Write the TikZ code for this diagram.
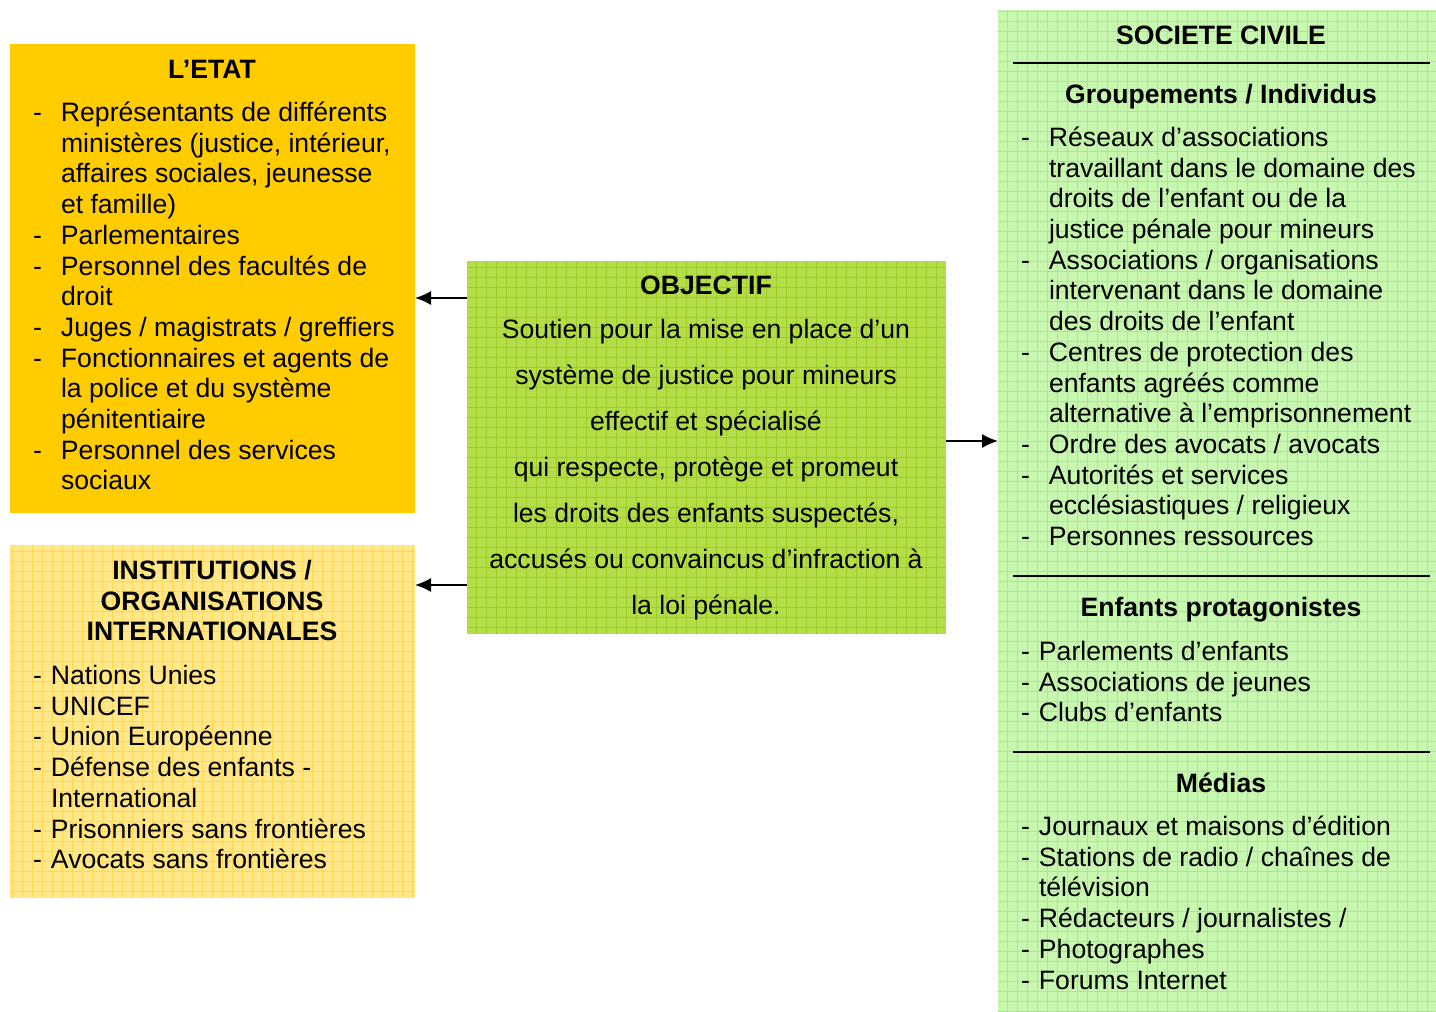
\documentclass[tikz,border=0pt]{standalone}
\usepackage{fontspec}
\setmainfont{Liberation Sans}
\usetikzlibrary{arrows.meta, positioning}
\definecolor{etatyellow}{HTML}{FFCC00}
\definecolor{instyellow}{HTML}{FFE88C}
\definecolor{instgrid}{HTML}{FFD850}
\definecolor{objgreen}{HTML}{B4DD4A}
\definecolor{objgrid}{HTML}{9ECC22}
\definecolor{civilgreen}{HTML}{C8F8B0}
\definecolor{civilgrid}{HTML}{A6EC86}

% dash list: width of the dash column, then the rows
\newcommand{\dashlist}[2]{\begin{tabular}[t]{@{}p{#1}@{}l@{}}#2\end{tabular}}

\begin{document}
\begin{tikzpicture}[x=0.5pt, y=-0.5pt,
  font=\fontsize{13.3}{15.35}\selectfont,
  every node/.style={inner sep=0pt, outer sep=0pt},
  panel/.style={anchor=north west},
  gridpanel/.style 2 args={panel, fill=#1,
    path picture={\draw[#2, line width=0.5pt, step=5pt]
      (path picture bounding box.south west) grid (path picture bounding box.north east);}},
  boxtitle/.style={anchor=base, font=\fontsize{13.3}{15.35}\selectfont\bfseries},
  listtext/.style={anchor=base west},
  sepline/.style={black, line width=1pt},
  arr/.style={-{Latex[length=8pt, width=7pt]}, line width=0.75pt}]
  \useasboundingbox (0,0) rectangle (1436,1012);

  % Boxes
  \node (etat) [panel, fill=etatyellow, minimum width=202.5pt, minimum height=234.5pt] at (10,44) {};
  \node (inst) [gridpanel={instyellow}{instgrid}, minimum width=202.5pt, minimum height=176.5pt] at (10,545) {};
  \node (objectif) [gridpanel={objgreen}{objgrid}, minimum width=239.5pt, minimum height=186.5pt] at (467,261) {};
  \node (civil) [gridpanel={civilgreen}{civilgrid}, minimum width=219pt, minimum height=501pt] at (998,10) {};

  % Left top - the state
  \node (etattitle) [boxtitle] at (212,78.5) {L’ETAT};
  \node (etatlist) [listtext] at (33,121.5) {\dashlist{14pt}{%
    -&Représentants de différents\\
     &ministères (justice, intérieur,\\
     &affaires sociales, jeunesse\\
     &et famille)\\
    -&Parlementaires\\
    -&Personnel des facultés de\\
     &droit\\
    -&Juges / magistrats / greffiers\\
    -&Fonctionnaires et agents de\\
     &la police et du système\\
     &pénitentiaire\\
    -&Personnel des services\\
     &sociaux}};

  % Left bottom - international bodies
  \node (insttitle) [boxtitle] at (212,579.5) {\begin{tabular}[t]{@{}c@{}}INSTITUTIONS /\\ORGANISATIONS\\INTERNATIONALES\end{tabular}};
  \node (instlist) [listtext] at (33,684.5) {\dashlist{9pt}{%
    -&Nations Unies\\
    -&UNICEF\\
    -&Union Européenne\\
    -&Défense des enfants -\\
     &International\\
    -&Prisonniers sans frontières\\
    -&Avocats sans frontières}};

  % Center - the objective
  \node (objtitle) [boxtitle] at (706,294.5) {OBJECTIF};
  \node (objtext) [anchor=base, font=\fontsize{13.3}{23}\selectfont] at (706,338.5) {\begin{tabular}[t]{@{}c@{}}
    Soutien pour la mise en place d’un\\
    système de justice pour mineurs\\
    effectif et spécialisé\\
    qui respecte, protège et promeut\\
    les droits des enfants suspectés,\\
    accusés ou convaincus d’infraction à\\
    la loi pénale.\end{tabular}};

  % Right side - civil society
  \node (civiltitle) [boxtitle] at (1221,44.5) {SOCIETE CIVILE};
  \draw[sepline] (1013,63) -- (1430,63);
  \node (grptitle) [boxtitle] at (1221,103.5) {Groupements / Individus};
  \node (grplist) [listtext] at (1021,146.5) {\dashlist{14pt}{%
    -&Réseaux d’associations\\
     &travaillant dans le domaine des\\
     &droits de l’enfant ou de la\\
     &justice pénale pour mineurs\\
    -&Associations / organisations\\
     &intervenant dans le domaine\\
     &des droits de l’enfant\\
    -&Centres de protection des\\
     &enfants agréés comme\\
     &alternative à l’emprisonnement\\
    -&Ordre des avocats / avocats\\
    -&Autorités et services\\
     &ecclésiastiques / religieux\\
    -&Personnes ressources}};
  \draw[sepline] (1013,576) -- (1430,576);
  \node (kidstitle) [boxtitle] at (1221,616.5) {Enfants protagonistes};
  \node (kidslist) [listtext] at (1021,660.5) {\dashlist{9pt}{%
    -&Parlements d’enfants\\
    -&Associations de jeunes\\
    -&Clubs d’enfants}};
  \draw[sepline] (1013,752) -- (1430,752);
  \node (mediatitle) [boxtitle] at (1221,792.5) {Médias};
  \node (medialist) [listtext] at (1021,835.5) {\dashlist{9pt}{%
    -&Journaux et maisons d’édition\\
    -&Stations de radio / chaînes de\\
     &télévision\\
    -&Rédacteurs / journalistes /\\
    -&Photographes\\
    -&Forums Internet}};

  % Arrows out of the objective
  \coordinate (etatlvl) at (0,298);
  \coordinate (instlvl) at (0,585);
  \coordinate (civillvl) at (0,441);
  \draw[arr] (objectif.west |- etatlvl) -- (etat.east |- etatlvl);
  \draw[arr] (objectif.west |- instlvl) -- (inst.east |- instlvl);
  \draw[arr] (objectif.east |- civillvl) -- (civil.west |- civillvl);
\end{tikzpicture}
\end{document}
